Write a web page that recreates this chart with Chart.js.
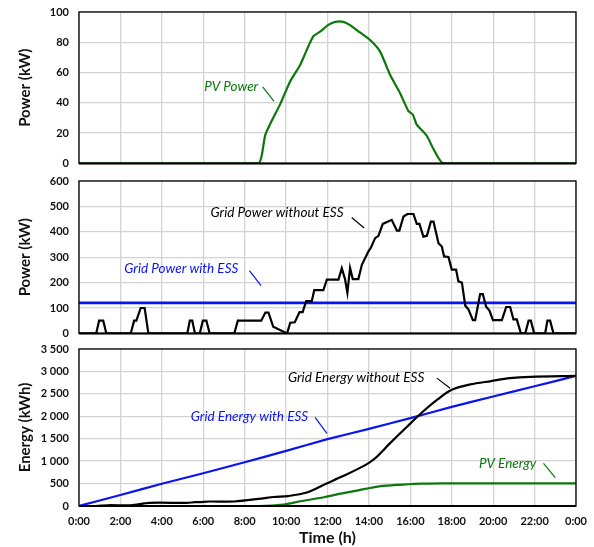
<!DOCTYPE html>
<html>
<head>
<meta charset="utf-8">
<script src="https://cdn.jsdelivr.net/npm/chart.js@4"></script>
<style>
  body { margin: 0; background: #fff; }
  #wrap { position: relative; width: 594px; height: 547px; background: #fff; }
  canvas { position: absolute; left: 0; }
</style>
</head>
<body>
<div id="wrap">
  <canvas id="pv" width="594" height="170" style="top:0"></canvas>
  <canvas id="grid" width="594" height="170" style="top:170px"></canvas>
  <canvas id="energy" width="594" height="207" style="top:340px"></canvas>
</div>
<script>
// time axis in hours, 0..24
const hourTicks = [0, 2, 4, 6, 8, 10, 12, 14, 16, 18, 20, 22, 24];

// PV power (kW)
const pvTimes = [0, 8.66, 8.82, 8.99, 9.23, 9.71, 10.19, 10.68, 11.0, 11.32, 11.64, 12.04, 12.37, 12.77, 13.09, 13.57, 14.06, 14.54, 15.02, 15.5, 15.91, 16.12, 16.3, 16.8, 17.12, 17.6, 24];
const pvPower = [0, 0, 5, 18.5, 26, 39, 54, 65, 75, 84, 87, 91.5, 93.5, 93.5, 91.3, 86.5, 81.5, 73.8, 58.5, 46.5, 34.5, 32.3, 25.8, 18.1, 9.4, 0, 0];

// grid power without ESS (kW)
const gridTimes = [0, 0.83, 0.97, 1.17, 1.32, 2.5, 2.66, 2.77, 2.98, 3.17, 3.35, 5.23, 5.35, 5.47, 5.6, 5.83, 5.98, 6.15, 6.31,
  7.5, 7.67, 8.8, 9.0, 9.15, 9.38, 10.05, 10.2, 10.42, 10.65, 10.8, 10.97, 11.24, 11.36, 11.8, 11.97, 12.53, 12.69, 12.85,
  12.96, 13.09, 13.22, 13.49, 13.66, 13.98, 14.1, 14.3, 14.46, 14.67, 15.1, 15.35, 15.47, 15.67, 15.86, 16.15, 16.31, 16.44,
  16.63, 16.8, 16.99, 17.12, 17.36, 17.52, 17.63, 17.84, 18.0, 18.21, 18.32, 18.49, 18.65, 18.81, 19.02, 19.13, 19.37, 19.5,
  19.66, 19.82, 19.99, 20.42, 20.63, 20.82, 20.98, 21.14, 21.34, 21.55, 21.71, 21.82, 21.98, 22.51, 22.62, 22.75, 22.91, 24];
const gridPowerNoEss = [0, 0, 50, 50, 0, 0, 50, 50, 100, 100, 0, 0, 50, 50, 0, 0, 50, 50, 0,
  0, 50, 50, 82, 82, 26, 0, 42, 44, 84, 84, 127, 127, 170, 170, 212, 212, 257, 212,
  160, 258, 214, 214, 270, 323, 338, 375, 384, 431, 447, 405, 405, 460, 470, 470, 431, 431,
  381, 384, 440, 440, 355, 342, 303, 301, 251, 251, 205, 200, 110, 94, 52, 52, 155, 155,
  105, 90, 52, 52, 104, 104, 55, 55, 0, 0, 50, 50, 0, 0, 50, 50, 0, 0];

// grid power with ESS (kW)
const essTimes = [0, 24];
const gridPowerEss = [120, 120];

// energies (kWh)
const eNoEssTimes = [0, 0.8, 1.4, 2.5, 3.4, 5.2, 5.6, 5.8, 6.3, 7.5, 8.8, 9.4, 10.1, 11.0, 11.9, 12.7, 13.8, 14.3, 15.0, 15.8, 16.6, 17.3, 18.0, 18.9, 19.9, 20.8, 21.8, 24];
const gridEnergyNoEss = [0, 0, 17, 17, 70, 70, 85, 85, 100, 100, 165, 200, 222, 300, 490, 655, 905, 1065, 1390, 1750, 2100, 2370, 2590, 2710, 2785, 2850, 2880, 2900];
const eEssTimes = [0, 2, 4, 6, 8, 10, 12, 14, 16, 18, 20, 22, 24];
const gridEnergyEss = [0, 245, 495, 730, 975, 1230, 1490, 1720, 1960, 2210, 2440, 2670, 2900];
const pvETimes = [0, 8.7, 9.87, 10.68, 11.88, 12.7, 13.9, 14.7, 15.9, 16.5, 17.6, 24];
const pvEnergy = [0, 0, 30, 105, 201, 280, 388, 448, 485, 497, 505, 505];

const GREEN = '#0b780b';
const BLUE = '#0a14f0';
const FONT = 'Lato, "Open Sans", sans-serif';

Chart.defaults.font.family = FONT;
Chart.defaults.color = '#111';

const pts = (xs, ys) => xs.map((x, i) => ({ x, y: ys[i] }));

// black box around the plot area
const framePlugin = {
  id: 'frame',
  afterDatasetsDraw(chart) {
    const { ctx, chartArea: a } = chart;
    ctx.save();
    ctx.strokeStyle = '#000';
    ctx.lineWidth = 1.3;
    ctx.strokeRect(a.left, a.top, a.right - a.left, a.bottom - a.top);
    ctx.lineWidth = 2;
    ctx.beginPath();
    ctx.moveTo(a.left, a.bottom);
    ctx.lineTo(a.right, a.bottom);
    ctx.stroke();
    ctx.restore();
  }
};

// italic series labels with a short leader line, placed in data units
const notesPlugin = {
  id: 'notes',
  afterDatasetsDraw(chart, args, opts) {
    const { ctx, scales: { x, y } } = chart;
    ctx.save();
    for (const n of opts.items || []) {
      ctx.fillStyle = n.color;
      ctx.strokeStyle = n.color;
      ctx.font = 'italic 13.5px ' + FONT;
      ctx.textAlign = 'center';
      ctx.textBaseline = 'middle';
      ctx.fillText(n.text, x.getPixelForValue(n.x), y.getPixelForValue(n.y));
      ctx.lineWidth = 1.2;
      ctx.beginPath();
      ctx.moveTo(x.getPixelForValue(n.line[0]), y.getPixelForValue(n.line[1]));
      ctx.lineTo(x.getPixelForValue(n.line[2]), y.getPixelForValue(n.line[3]));
      ctx.stroke();
    }
    ctx.restore();
  }
};

function line(data, color, width, tension) {
  return { data, borderColor: color, borderWidth: width, pointRadius: 0, tension: tension || 0, fill: false };
}

function options(cfg) {
  return {
    responsive: false,
    animation: false,
    devicePixelRatio: 1,
    layout: { padding: { left: 0, right: 18, top: cfg.padTop, bottom: cfg.padBottom } },
    plugins: { legend: { display: false }, tooltip: { enabled: false }, notes: { items: cfg.notes } },
    scales: {
      x: {
        type: 'linear', min: 0, max: 24,
        afterBuildTicks: s => { s.ticks = hourTicks.map(v => ({ value: v })); },
        afterFit: s => { s.height = cfg.xHeight; },
        grid: { color: '#d3d3d3', lineWidth: 1.3, drawTicks: cfg.xLabels, tickLength: 9, tickColor: 'rgba(0,0,0,0)' },
        border: { display: false },
        ticks: {
          display: cfg.xLabels, padding: 0, maxRotation: 0,
          font: { size: 11, weight: 'bold' },
          callback: v => (v % 24) + ':00'
        },
        title: {
          display: cfg.xLabels, text: 'Time (h)',
          font: { size: 16, weight: 'bold' }, padding: { top: 0, bottom: 0 }
        }
      },
      y: {
        min: cfg.yMin, max: cfg.yMax,
        afterFit: s => { s.width = 79; },
        grid: { color: '#d3d3d3', lineWidth: 1.3, drawTicks: true, tickLength: 10, tickColor: 'rgba(0,0,0,0)' },
        border: { display: false },
        ticks: {
          stepSize: cfg.yStep, padding: 0,
          font: { size: 11, weight: 'bold' },
          callback: cfg.yFmt || (v => v)
        },
        title: {
          display: true, text: cfg.yTitle,
          font: { size: 15, weight: 'bold' }, padding: { top: 16, bottom: 0 }
        }
      }
    }
  };
}

new Chart(document.getElementById('pv'), {
  type: 'line',
  data: { datasets: [line(pts(pvTimes, pvPower), GREEN, 2.2, 0.2)] },
  options: options({
    yMin: 0, yMax: 100, yStep: 20, yTitle: 'Power (kW)', padTop: 12, padBottom: 6, xHeight: 0, xLabels: false,
    notes: [{ text: 'PV Power', color: GREEN, x: 7.35, y: 50.6, line: [8.87, 50.5, 9.42, 41] }]
  }),
  plugins: [framePlugin, notesPlugin]
});

new Chart(document.getElementById('grid'), {
  type: 'line',
  data: {
    datasets: [
      line(pts(gridTimes, gridPowerNoEss), '#000', 2.2),
      line(pts(essTimes, gridPowerEss), BLUE, 2.6)
    ]
  },
  options: options({
    yMin: 0, yMax: 600, yStep: 100, yTitle: 'Power (kW)', padTop: 11, padBottom: 6, xHeight: 0, xLabels: false,
    notes: [
      { text: 'Grid Power with ESS', color: BLUE, x: 4.94, y: 254, line: [8.23, 247, 8.79, 188] },
      { text: 'Grid Power without ESS', color: '#000', x: 9.56, y: 477, line: [13.17, 456, 13.77, 415] }
    ]
  }),
  plugins: [framePlugin, notesPlugin]
});

new Chart(document.getElementById('energy'), {
  type: 'line',
  data: {
    datasets: [
      line(pts(eNoEssTimes, gridEnergyNoEss), '#000', 2.2, 0.3),
      line(pts(eEssTimes, gridEnergyEss), BLUE, 2.2, 0.2),
      line(pts(pvETimes, pvEnergy), GREEN, 2.2, 0.3)
    ]
  },
  options: options({
    yMin: 0, yMax: 3500, yStep: 500, yTitle: 'Energy (kWh)', padTop: 9, padBottom: 0, xHeight: 41, xLabels: true,
    yFmt: v => String(v).replace(/\B(?=(\d{3})+(?!\d))/g, ' '),
    notes: [
      { text: 'Grid Energy without ESS', color: '#000', x: 13.38, y: 2851, line: [17.28, 2851, 17.92, 2627] },
      { text: 'Grid Energy with ESS', color: BLUE, x: 8.23, y: 1992, line: [11.4, 1978, 11.97, 1620] },
      { text: 'PV Energy', color: GREEN, x: 20.7, y: 949, line: [22.43, 949, 23.0, 635] }
    ]
  }),
  plugins: [framePlugin, notesPlugin]
});
</script>
</body>
</html>
